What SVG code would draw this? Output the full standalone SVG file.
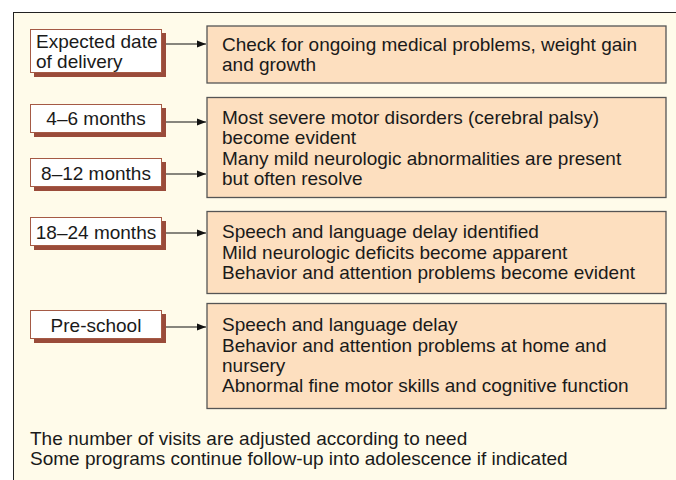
<svg xmlns="http://www.w3.org/2000/svg" width="676" height="480" viewBox="0 0 676 480">
<defs>
<style>
.t{font-family:"Liberation Sans",Arial,sans-serif;font-size:19px;fill:#1a1a1a}
.c{text-anchor:middle}
.lb{fill:#fff;stroke:#a55a45;stroke-width:1}
.sh{fill:#9a4b3a}
.rb{fill:#fddfbf;stroke:#555;stroke-width:1.3}
.ar{stroke:#111;stroke-width:1.2;fill:none}
</style>
<marker id="ah" markerWidth="10" markerHeight="8" refX="9" refY="4" orient="auto" markerUnits="userSpaceOnUse">
<path d="M0,0.5 L9,4 L0,7.5 Z" fill="#111"/>
</marker>
</defs>
<rect x="0" y="0" width="676" height="480" fill="#fff"/>
<rect x="13.5" y="12.5" width="680" height="480" fill="#fffbea" stroke="#222" stroke-width="1"/>

<g id="n-expected">
<rect class="sh" x="34" y="33" width="132" height="44"/>
<rect class="lb" x="30.5" y="29.5" width="131" height="43"/>
<text class="t" x="36" y="48">Expected date</text>
<text class="t" x="36" y="68">of delivery</text>
</g>
<g id="n-4-6">
<rect class="sh" x="34" y="108" width="132" height="29"/>
<rect class="lb" x="30.5" y="104.5" width="131" height="28"/>
<text class="t c" x="96" y="125">4–6 months</text>
</g>
<g id="n-8-12">
<rect class="sh" x="34" y="162" width="132" height="29"/>
<rect class="lb" x="30.5" y="158.5" width="131" height="28"/>
<text class="t c" x="96" y="180">8–12 months</text>
</g>
<g id="n-18-24">
<rect class="sh" x="34" y="221" width="132" height="29"/>
<rect class="lb" x="30.5" y="217.5" width="131" height="28"/>
<text class="t c" x="96" y="239">18–24 months</text>
</g>
<g id="n-preschool">
<rect class="sh" x="34" y="314" width="132" height="29"/>
<rect class="lb" x="30.5" y="310.5" width="131" height="28"/>
<text class="t c" x="96" y="332">Pre-school</text>
</g>

<g id="r-1">
<rect class="rb" x="207" y="26" width="459" height="57"/>
<text class="t" x="222" y="51">Check for ongoing medical problems, weight gain</text>
<text class="t" x="222" y="71">and growth</text>
</g>
<g id="r-2">
<rect class="rb" x="207" y="97.5" width="459" height="100"/>
<text class="t" x="222" y="124">Most severe motor disorders (cerebral palsy)</text>
<text class="t" x="222" y="144">become evident</text>
<text class="t" x="222" y="165">Many mild neurologic abnormalities are present</text>
<text class="t" x="222" y="185">but often resolve</text>
</g>
<g id="r-3">
<rect class="rb" x="207" y="211.5" width="459" height="82"/>
<text class="t" x="222" y="238">Speech and language delay identified</text>
<text class="t" x="222" y="259">Mild neurologic deficits become apparent</text>
<text class="t" x="222" y="279">Behavior and attention problems become evident</text>
</g>
<g id="r-4">
<rect class="rb" x="207" y="303.5" width="459" height="105"/>
<text class="t" x="222" y="331">Speech and language delay</text>
<text class="t" x="222" y="352">Behavior and attention problems at home and</text>
<text class="t" x="222" y="372">nursery</text>
<text class="t" x="222" y="392">Abnormal fine motor skills and cognitive function</text>
</g>

<g id="connectors">
<line class="ar" x1="166" y1="44" x2="206" y2="44" marker-end="url(#ah)"/>
<line class="ar" x1="166" y1="122" x2="206" y2="122" marker-end="url(#ah)"/>
<line class="ar" x1="166" y1="174" x2="206" y2="174" marker-end="url(#ah)"/>
<line class="ar" x1="166" y1="233" x2="206" y2="233" marker-end="url(#ah)"/>
<line class="ar" x1="166" y1="327" x2="206" y2="327" marker-end="url(#ah)"/>
</g>

<g id="footer">
<text class="t" x="30" y="445">The number of visits are adjusted according to need</text>
<text class="t" x="30" y="465">Some programs continue follow-up into adolescence if indicated</text>
</g>
</svg>
